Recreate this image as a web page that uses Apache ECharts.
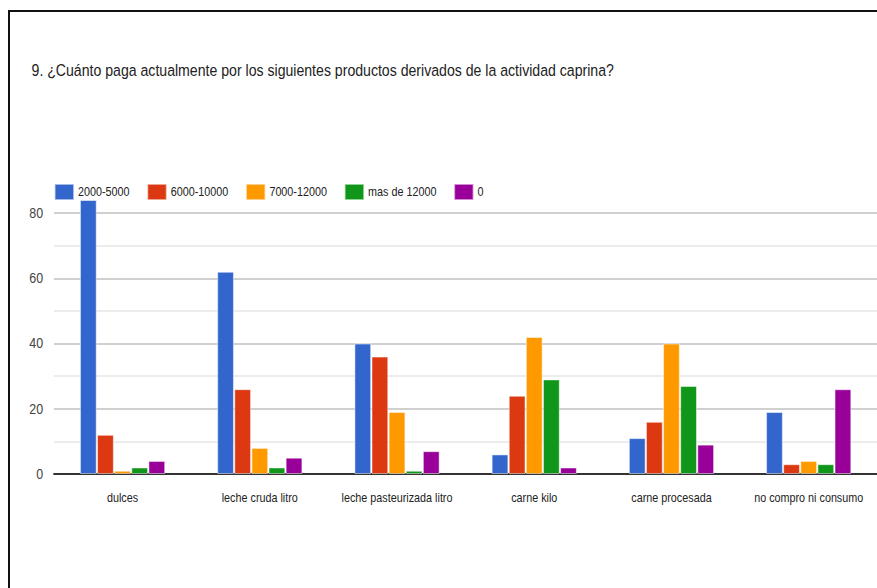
<!DOCTYPE html>
<html>
<head>
<meta charset="utf-8">
<script src="https://cdn.jsdelivr.net/npm/echarts@6/dist/echarts.min.js"></script>
<style>
html,body{margin:0;padding:0;background:#fff;overflow:hidden;width:877px;height:588px;}
#wrap{position:absolute;left:0;top:0;width:877px;height:588px;overflow:hidden;}
#chart{position:absolute;left:0;top:0;width:1057px;height:588px;transform:scaleX(0.83);transform-origin:0 0;}
#frame{position:absolute;left:8px;top:10px;width:900px;height:600px;border-top:2.5px solid #111;border-left:2.5px solid #111;pointer-events:none;}
</style>
</head>
<body>
<div id="wrap"><div id="chart"></div><div id="frame"></div></div>
<script>
var titleText = '9. ¿Cuánto paga actualmente por los siguientes productos derivados de la actividad caprina?';
var categories = ['dulces', 'leche cruda litro', 'leche pasteurizada litro', 'carne kilo', 'carne procesada', 'no compro ni consumo'];
var seriesNames = ['2000-5000', '6000-10000', '7000-12000', 'mas de 12000', '0'];
var s2000_5000 = [84, 62, 40, 6, 11, 19];
var s6000_10000 = [12, 26, 36, 24, 16, 3];
var s7000_12000 = [1, 8, 19, 42, 40, 4];
var sMas12000 = [2, 2, 1, 29, 27, 3];
var s0 = [4, 5, 7, 2, 9, 26];
var colors = ['#3366cc', '#dc3912', '#ff9900', '#109618', '#990099'];
var yTicks = [0, 20, 40, 60, 80];

var FONT = '"Liberation Sans", Arial, sans-serif';
var dataSets = [s2000_5000, s6000_10000, s7000_12000, sMas12000, s0];

var chart = echarts.init(document.getElementById('chart'), null, {renderer: 'svg'});
chart.setOption({
  animation: false,
  color: colors,
  textStyle: {fontFamily: FONT},
  title: {
    text: titleText,
    left: 38, top: 62, padding: 0,
    textStyle: {fontFamily: FONT, fontSize: 17, fontWeight: 'normal', color: '#222'}
  },
  legend: {
    left: 65, top: 183, padding: 0,
    itemWidth: 23, itemHeight: 16, itemGap: 20.5,
    icon: 'rect',
    textStyle: {fontFamily: FONT, fontSize: 13, color: '#222'},
    data: seriesNames
  },
  grid: {left: 65, top: 200, width: 1001, bottom: 114, containLabel: false},
  xAxis: {
    type: 'category',
    data: categories,
    axisLine: {lineStyle: {color: '#333', width: 2}},
    axisTick: {show: false},
    axisLabel: {fontFamily: FONT, fontSize: 13, color: '#222', margin: 17, interval: 0}
  },
  yAxis: {
    type: 'value',
    min: 0, max: 84, interval: 10,
    axisLine: {show: false},
    axisTick: {show: false},
    axisLabel: {
      fontFamily: FONT, fontSize: 15, color: '#444', margin: 13,
      formatter: function (v) { return yTicks.indexOf(v) >= 0 ? String(v) : ''; }
    },
    splitLine: {showMaxLine: false, lineStyle: {color: ['#d0d0d0', '#ececec'], width: 2}}
  },
  series: dataSets.map(function (d, i) {
    return {
      name: seriesNames[i],
      type: 'bar',
      data: d,
      barGap: '3%',
      barCategoryGap: '38%',
      itemStyle: {borderColor: 'rgba(255,255,255,0.55)', borderWidth: 1}
    };
  })
});
</script>
</body>
</html>
